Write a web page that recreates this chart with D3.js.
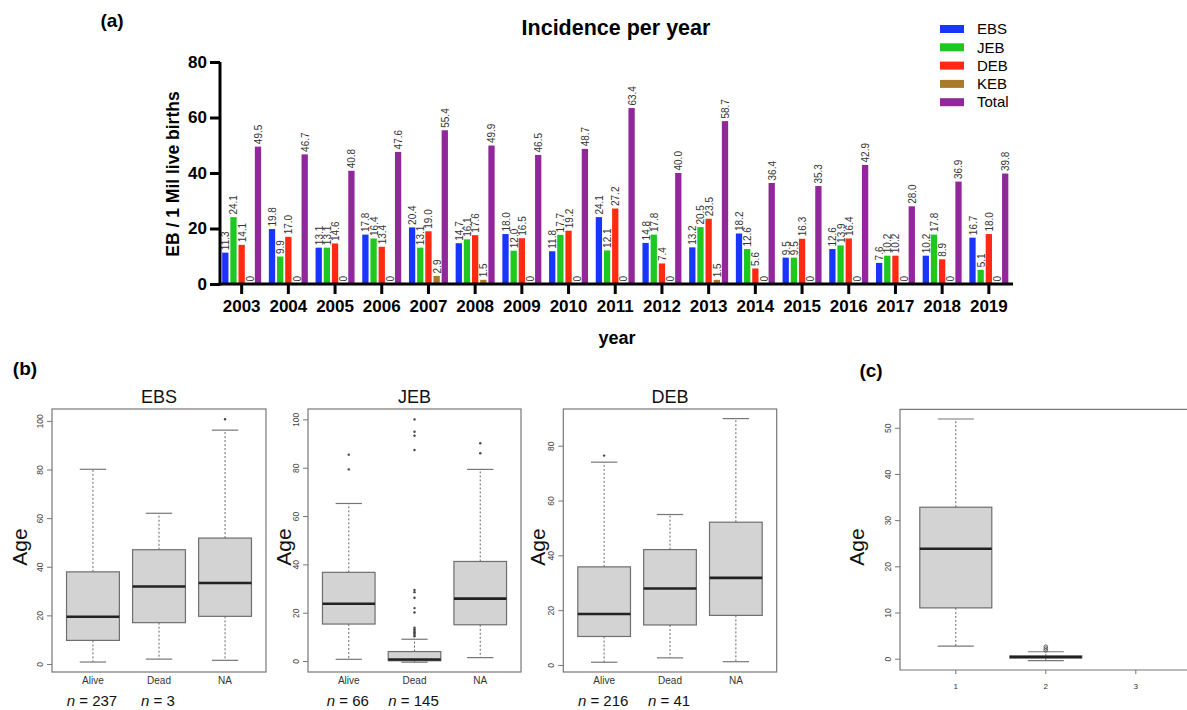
<!DOCTYPE html>
<html><head><meta charset="utf-8">
<script src="https://cdn.jsdelivr.net/npm/d3@7"></script>
<style>
body{margin:0;background:#fff;}
svg{display:block;font-family:"Liberation Sans",Arial,sans-serif;}
</style></head>
<body>
<svg id="chart" width="1187" height="710"></svg>
<script>
// ---------- Data: panel (a) ----------
const years = ["2003","2004","2005","2006","2007","2008","2009","2010","2011","2012","2013","2014","2015","2016","2017","2018","2019"];
const series = ["EBS","JEB","DEB","KEB","Total"];
const seriesColors = ["#1836ff","#1ec81e","#ff2a12","#a87a2c","#92279b"];
const ebsVals   = [11.3,19.8,13.1,17.8,20.4,14.7,18.0,11.8,24.1,14.8,13.2,18.2,9.5,12.6,7.6,10.2,16.7];
const jebVals   = [24.1,9.9,13.1,16.4,13.1,16.1,12.0,17.7,12.1,17.8,20.5,12.6,9.5,13.9,10.2,17.8,5.1];
const debVals   = [14.1,17.0,14.6,13.4,19.0,17.6,16.5,19.2,27.2,7.4,23.5,5.6,16.3,16.4,10.2,8.9,18.0];
const kebVals   = [0,0,0,0,2.9,1.5,0,0,0,0,1.5,0,0,0,0,0,0];
const totalVals = [49.5,46.7,40.8,47.6,55.4,49.9,46.5,48.7,63.4,40.0,58.7,36.4,35.3,42.9,28.0,36.9,39.8];
const yTicksA = [0,20,40,60,80];

// ---------- Data: panel (b) ----------
const boxGroups = ["Alive","Dead","NA"];
// [lower whisker, Q1, median, Q3, upper whisker]
const ebsBox = [[0.8,9.7,19.4,37.9,80.1],[2.0,17.0,31.9,47.0,62.0],[1.5,19.6,33.3,51.8,96.2]];
const ebsOut = [[],[],[100.7]];
const ebsN = ["237","3"];
const jebBox = [[0.7,15.3,23.7,36.7,65.2],[-0.5,0.1,0.6,3.9,9.0],[1.4,15.0,25.8,41.2,79.3]];
const jebOut = [[85.4,79.3],[100,94.9,93.2,87.3,29.4,28.5,26.2,21.9,20.1,13.8,13.1,12.4,11.9,11.4,10.8,10.2],[90.1,86.0]];
const jebN = ["66","145"];
const debBox = [[1.0,10.4,18.6,35.8,74.0],[2.6,14.6,27.9,42.1,54.9],[1.2,18.1,31.8,52.1,89.9]];
const debOut = [[76.4],[],[]];
const debN = ["216","41"];
const yTicksB100 = [0,20,40,60,80,100];
const yTicksB80 = [0,20,40,60,80];

// ---------- Data: panel (c) ----------
const cGroups = ["1","2","3"];
const cBox = [[2.7,11.0,23.8,32.8,51.9],[-0.4,0.15,0.35,0.6,1.5],null];
const cOut = [[],[1.8,2.2,2.6],[]];
const yTicksC = [0,10,20,30,40,50];

const svg = d3.select("#chart");

// ================= Panel (a) =================
const yA = d3.scaleLinear().domain([0,80]).range([284,62]);
const x0 = d3.scaleBand().domain(years).range([218.3,1012.2]).paddingInner(0.165).paddingOuter(0.0825);
const x1 = d3.scaleBand().domain(series).range([0,x0.bandwidth()]).paddingInner(0.23);
const color = d3.scaleOrdinal().domain(series).range(seriesColors);
const valuesBySeries = [ebsVals,jebVals,debVals,kebVals,totalVals];

const gA = svg.append("g");
years.forEach((yr,i)=>{
  series.forEach((s,j)=>{
    const v = valuesBySeries[j][i];
    const bx = x0(yr)+x1(s);
    gA.append("rect").attr("x",bx).attr("y",yA(v)).attr("width",x1.bandwidth())
      .attr("height",yA(0)-yA(v)).attr("fill",color(s));
    const lbl = v===0 ? "0" : d3.format(".1f")(v);
    gA.append("text").attr("transform",`translate(${bx+x1.bandwidth()/2+0.5},${yA(v)-2.5}) rotate(-90)`)
      .attr("dy","0.35em").attr("font-size",10).attr("fill","#333").text(lbl);
  });
});

// axes
const axY = d3.axisLeft(yA).tickValues(yTicksA).tickSize(10).tickPadding(3);
const gy = gA.append("g").attr("transform","translate(220,0)").call(axY);
gy.select(".domain").attr("stroke","#000").attr("stroke-width",3).attr("d","M0,62V285.5");
gy.selectAll(".tick line").attr("stroke","#000").attr("stroke-width",3);
gy.selectAll(".tick text").attr("font-size",17).attr("font-weight","bold").attr("fill","#000");

const axX = d3.axisBottom(x0).tickSize(10).tickPadding(6);
const gx = gA.append("g").attr("transform","translate(0,284)").call(axX);
gx.select(".domain").attr("stroke","#000").attr("stroke-width",3).attr("d","M218.5,0H1013");
gx.selectAll(".tick line").attr("stroke","#000").attr("stroke-width",3);
gx.selectAll(".tick text").attr("font-size",17).attr("font-weight","bold").attr("fill","#000");

gA.append("text").attr("x",616).attr("y",35).attr("text-anchor","middle").attr("font-size",21.5)
  .attr("font-weight","bold").text("Incidence per year");
gA.append("text").attr("x",112).attr("y",27).attr("text-anchor","middle").attr("font-size",19)
  .attr("font-weight","bold").text("(a)");
gA.append("text").attr("x",617).attr("y",344).attr("text-anchor","middle").attr("font-size",18)
  .attr("font-weight","bold").text("year");
gA.append("text").attr("transform","translate(179,174) rotate(-90)").attr("text-anchor","middle")
  .attr("font-size",17.5).attr("font-weight","bold").text("EB / 1 Mil live births");

// legend
series.forEach((s,j)=>{
  const cy = 29 + j*18.3;
  gA.append("rect").attr("x",940).attr("y",cy-4).attr("width",24).attr("height",8).attr("fill",color(s));
  gA.append("text").attr("x",977).attr("y",cy).attr("dy","0.35em").attr("font-size",15).text(s);
});

// ================= Box panels =================
function boxPanel(cfg){
  const g = svg.append("g");
  const x = d3.scaleLinear().domain([0.38,3.62]).range(cfg.xr);
  const y = d3.scaleLinear().domain(cfg.yd).range([cfg.yb, cfg.yt]);
  const step = x(2)-x(1);
  const bw = step*0.8;
  // frame
  if(cfg.fullFrame){
    g.append("rect").attr("x",cfg.xr[0]).attr("y",cfg.yt).attr("width",cfg.xr[1]-cfg.xr[0])
      .attr("height",cfg.yb-cfg.yt).attr("fill","none").attr("stroke","#777").attr("stroke-width",1.2);
  } else {
    g.append("path").attr("d",`M${cfg.xr[1]},${cfg.yt}H${cfg.xr[0]}V${cfg.yb}H${cfg.xr[1]}`)
      .attr("fill","none").attr("stroke","#777").attr("stroke-width",1.2);
  }
  // y axis
  const ay = d3.axisLeft(y).tickValues(cfg.ticks).tickSize(5).tickPadding(2);
  const gy = g.append("g").attr("transform",`translate(${cfg.xr[0]},0)`).call(ay);
  gy.select(".domain").remove();
  gy.selectAll(".tick line").attr("stroke","#777");
  gy.selectAll(".tick text").attr("font-size",8.5).attr("fill","#444")
    .attr("text-anchor","middle").attr("transform","rotate(-90)").attr("x",0).attr("y",-9).attr("dy","0");
  // x labels
  cfg.groups.forEach((lab,i)=>{
    const cx = x(i+1);
    if(cfg.xticks){
      g.append("line").attr("x1",cx).attr("x2",cx).attr("y1",cfg.yb).attr("y2",cfg.yb+4).attr("stroke","#777");
    }
    g.append("text").attr("x",cx).attr("y",cfg.labY).attr("text-anchor","middle")
      .attr("font-size",cfg.xfs).attr("fill","#333").text(lab);
  });
  // boxes
  cfg.box.forEach((b,i)=>{
    if(!b) return;
    const cx = x(i+1);
    const [lo,q1,md,q3,hi] = b;
    g.append("line").attr("x1",cx).attr("x2",cx).attr("y1",y(q3)).attr("y2",y(hi))
      .attr("stroke","#666").attr("stroke-dasharray","2,2");
    g.append("line").attr("x1",cx).attr("x2",cx).attr("y1",y(q1)).attr("y2",y(lo))
      .attr("stroke","#666").attr("stroke-dasharray","2,2");
    g.append("line").attr("x1",cx-bw/4).attr("x2",cx+bw/4).attr("y1",y(hi)).attr("y2",y(hi)).attr("stroke","#777").attr("stroke-width",1.2);
    g.append("line").attr("x1",cx-bw/4).attr("x2",cx+bw/4).attr("y1",y(lo)).attr("y2",y(lo)).attr("stroke","#777").attr("stroke-width",1.2);
    g.append("rect").attr("x",cx-bw/2).attr("y",y(q3)).attr("width",bw).attr("height",Math.max(0.5,y(q1)-y(q3)))
      .attr("fill","#d3d3d3").attr("stroke","#6e6e6e").attr("stroke-width",1.2);
    g.append("line").attr("x1",cx-bw/2).attr("x2",cx+bw/2).attr("y1",y(md)).attr("y2",y(md))
      .attr("stroke","#222").attr("stroke-width",2.6);
  });
  cfg.out.forEach((arr,i)=>{
    const cx = x(i+1);
    arr.forEach(v=>{
      if(cfg.openOut){
        g.append("circle").attr("cx",cx).attr("cy",y(v)).attr("r",1.8).attr("fill","none").attr("stroke","#555").attr("stroke-width",0.9);
      } else {
        g.append("circle").attr("cx",cx).attr("cy",y(v)).attr("r",1.2).attr("fill","#444");
      }
    });
  });
  // title
  if(cfg.title){
    g.append("text").attr("x",(cfg.xr[0]+cfg.xr[1])/2).attr("y",403).attr("text-anchor","middle")
      .attr("font-size",18).attr("fill","#111").text(cfg.title);
  }
  g.append("text").attr("transform",`translate(${cfg.ageX},547) rotate(-90)`).attr("text-anchor","middle")
    .attr("dy","0.35em").attr("font-size",21).attr("fill","#111").text("Age");
  if(cfg.n){
    cfg.n.forEach((nv,i)=>{
      const t = g.append("text").attr("x",x(i+1)-1).attr("y",706).attr("text-anchor","middle").attr("font-size",15).attr("fill","#111");
      t.append("tspan").attr("font-style","italic").text("n");
      t.append("tspan").text(" = "+nv);
    });
  }
}

boxPanel({xr:[52,266], yt:409, yb:672, yd:[-3.3,104.9], ticks:yTicksB100, groups:boxGroups,
  box:ebsBox, out:ebsOut, n:ebsN, title:"EBS", ageX:20, labY:684, xfs:10, fullFrame:true});
boxPanel({xr:[308,521], yt:409, yb:672, yd:[-4.55,104.3], ticks:yTicksB100, groups:boxGroups,
  box:jebBox, out:jebOut, n:jebN, title:"JEB", ageX:284, labY:684, xfs:10, fullFrame:true});
boxPanel({xr:[563.3,776.7], yt:409, yb:672, yd:[-2.56,93.4], ticks:yTicksB80, groups:boxGroups,
  box:debBox, out:debOut, n:debN, title:"DEB", ageX:538, labY:684, xfs:10, fullFrame:true});
boxPanel({xr:[900,1191.6], yt:409.3, yb:670, yd:[-2.45,54], ticks:yTicksC, groups:cGroups,
  box:cBox, out:cOut, n:null, title:null, ageX:857, labY:689, xfs:8, fullFrame:false, xticks:true, openOut:true});

svg.append("text").attr("x",25).attr("y",375).attr("text-anchor","middle").attr("font-size",19)
  .attr("font-weight","bold").text("(b)");
svg.append("text").attr("x",871).attr("y",377).attr("text-anchor","middle").attr("font-size",19)
  .attr("font-weight","bold").text("(c)");
</script>
</body></html>
